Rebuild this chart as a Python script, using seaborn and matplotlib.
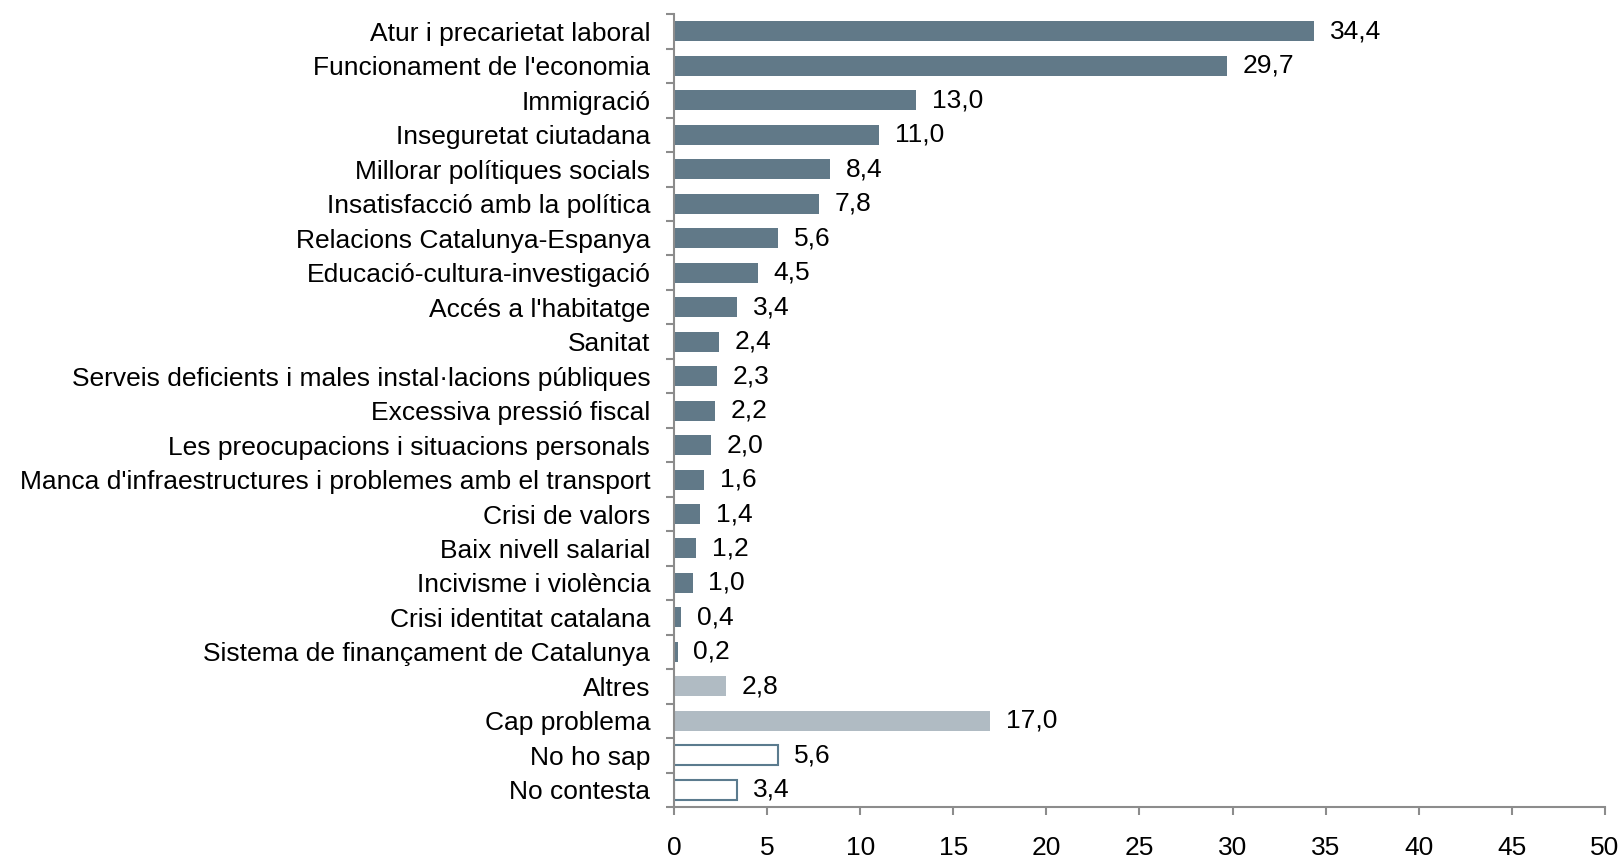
import matplotlib.pyplot as plt
import seaborn as sns
import numpy as np
import pandas as pd
import matplotlib.ticker as ticker

#
# 01. Dades
#
categories = [
    "Atur i precarietat laboral",
    "Funcionament de l'economia",
    "Immigració",
    "Inseguretat ciutadana",
    "Millorar polítiques socials",
    "Insatisfacció amb la política",
    "Relacions Catalunya-Espanya",
    "Educació-cultura-investigació",
    "Accés a l'habitatge",
    "Sanitat",
    "Serveis deficients i males instal·lacions públiques",
    "Excessiva pressió fiscal",
    "Les preocupacions i situacions personals",
    "Manca d'infraestructures i problemes amb el transport",
    "Crisi de valors",
    "Baix nivell salarial",
    "Incivisme i violència",
    "Crisi identitat catalana",
    "Sistema de finançament de Catalunya",
    "Altres",
    "Cap problema",
    "No ho sap",
    "No contesta",
]
valors = [34.4, 29.7, 13.0, 11.0, 8.4, 7.8, 5.6, 4.5, 3.4, 2.4, 2.3, 2.2,
          2.0, 1.6, 1.4, 1.2, 1.0, 0.4, 0.2, 2.8, 17.0, 5.6, 3.4]
grups = ["problema"] * 19 + ["altres"] * 2 + ["nsnc"] * 2

fosc = "#5b7b8e"
clar = "#adbcc6"
colors_grup = {"problema": fosc, "altres": clar, "nsnc": "white"}

df = pd.DataFrame({"categoria": categories, "valor": valors, "grup": grups})

#
# 02. Tema
#
sns.set_theme(style="white")
plt.rcParams['font.family'] = ['Liberation Sans', 'DejaVu Sans']
mida = 19

#
# 03. Gràfic
#
fig, ax = plt.subplots(figsize=(16.22, 8.59), dpi=100)
fig.subplots_adjust(left=0.4155, right=0.9895, top=0.9835, bottom=0.0605)

sns.barplot(data=df, y="categoria", x="valor", hue="categoria",
            palette=[colors_grup[g] for g in grups], legend=False,
            width=0.58, ax=ax, orient="h")

for patch, g in zip(ax.patches, grups):
    if g == "nsnc":
        patch.set_facecolor("white")
        patch.set_edgecolor(fosc)
        patch.set_linewidth(1.5)
    else:
        patch.set_edgecolor("none")

# Etiquetes de valor
for i, v in enumerate(valors):
    ax.text(v + 0.85, i, f"{v:.1f}".replace(".", ","),
            va="center", ha="left", fontsize=mida, color="black")

#
# 04. Eixos
#
ax.set_xlim(0, 50)
ax.set_ylim(len(categories) - 0.5, -0.5)
ax.xaxis.set_major_locator(ticker.MultipleLocator(5))
ax.set_xlabel("")
ax.set_ylabel("")

ax.set_yticks(np.arange(len(categories) + 1) - 0.5, minor=True)
ax.tick_params(axis="y", which="major", length=0, labelsize=mida, pad=17,
               labelcolor="black")
ax.tick_params(axis="y", which="minor", left=True, length=6, width=1.5,
               color="#8c8c8c")
ax.tick_params(axis="x", which="major", bottom=True, length=6, width=1.5,
               color="#8c8c8c", labelsize=mida, pad=15, labelcolor="black")

for s in ["top", "right"]:
    ax.spines[s].set_visible(False)
for s in ["left", "bottom"]:
    ax.spines[s].set_color("#8c8c8c")
    ax.spines[s].set_linewidth(1.5)

plt.savefig("out.png", dpi=100)
